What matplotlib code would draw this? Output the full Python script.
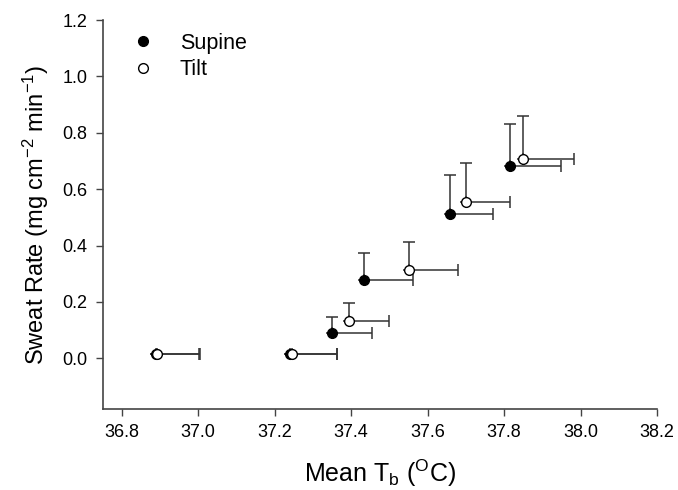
import numpy as np
import matplotlib
matplotlib.use("Agg")
import matplotlib.pyplot as plt
from matplotlib.lines import Line2D

plt.rcParams['font.family'] = ['Liberation Sans', 'DejaVu Sans']
plt.rcParams['mathtext.fontset'] = 'custom'
plt.rcParams['mathtext.rm'] = 'Liberation Sans'
plt.rcParams['mathtext.it'] = 'Liberation Sans'
plt.rcParams['mathtext.default'] = 'regular'

# mean body temperature (x) and sweat rate (y), one-sided SD
supine_x = [36.89, 37.24, 37.349, 37.434, 37.659, 37.816]
supine_y = [0.015, 0.015, 0.091, 0.278, 0.511, 0.681]
supine_xerr = [0.112, 0.122, 0.105, 0.129, 0.113, 0.133]
supine_yerr = [0.0, 0.0, 0.056, 0.095, 0.138, 0.152]

tilt_x = [36.892, 37.244, 37.395, 37.552, 37.700, 37.849]
tilt_y = [0.015, 0.015, 0.132, 0.313, 0.554, 0.706]
tilt_xerr = [0.112, 0.119, 0.104, 0.128, 0.116, 0.135]
tilt_yerr = [0.0, 0.0, 0.063, 0.101, 0.139, 0.155]

fig = plt.figure(figsize=(6.78, 4.90), dpi=100)
ax = fig.add_axes([0.1515, 0.1653, 0.8175, 0.7937])

ebar = dict(fmt='o', ms=7, ecolor='#333333', elinewidth=1.1, capsize=4, capthick=1.1)
n = len(supine_x)
ax.errorbar(supine_x, supine_y, xerr=[[0] * n, supine_xerr], yerr=[[0] * n, supine_yerr],
            mfc='black', mec='black', label='Supine', **ebar)
ax.errorbar(tilt_x, tilt_y, xerr=[[0] * n, tilt_xerr], yerr=[[0] * n, tilt_yerr],
            mfc='white', mec='black', label='Tilt', **ebar)

ax.set_xlim(36.75, 38.2)
ax.set_ylim(-0.18, 1.2)
xt = np.arange(36.8, 38.21, 0.2)
yt = np.arange(0.0, 1.21, 0.2)
ax.set_xticks(xt)
ax.set_xticklabels([f"{v:.1f}" for v in xt])
ax.set_yticks(yt)
ax.set_yticklabels([f"{v:.1f}" for v in yt])

for s in ['top', 'right']:
    ax.spines[s].set_visible(False)
for s in ['left', 'bottom']:
    ax.spines[s].set_color('#444444')
    ax.spines[s].set_linewidth(1.2)
ax.tick_params(direction='out', length=5, width=1, color='#444444', labelsize=13, pad=6)

ax.set_xlabel(r'Mean T$_b$ ($^O$C)', fontsize=18, labelpad=12)
ax.set_ylabel(r'Sweat Rate (mg cm$^{-2}$ min$^{-1}$)', fontsize=17, labelpad=8)

# legend: markers only, no error bars
h = [Line2D([], [], ls='none', marker='o', ms=7, mfc='black', mec='black'),
     Line2D([], [], ls='none', marker='o', ms=7, mfc='white', mec='black')]
ax.legend(h, ['Supine', 'Tilt'], loc='upper left', bbox_to_anchor=(0.033, 0.967),
          frameon=False, fontsize=15.5, borderpad=0, borderaxespad=0,
          handlelength=2.0, handletextpad=0.72, labelspacing=0.25)

fig.savefig('out.png', dpi=100)
